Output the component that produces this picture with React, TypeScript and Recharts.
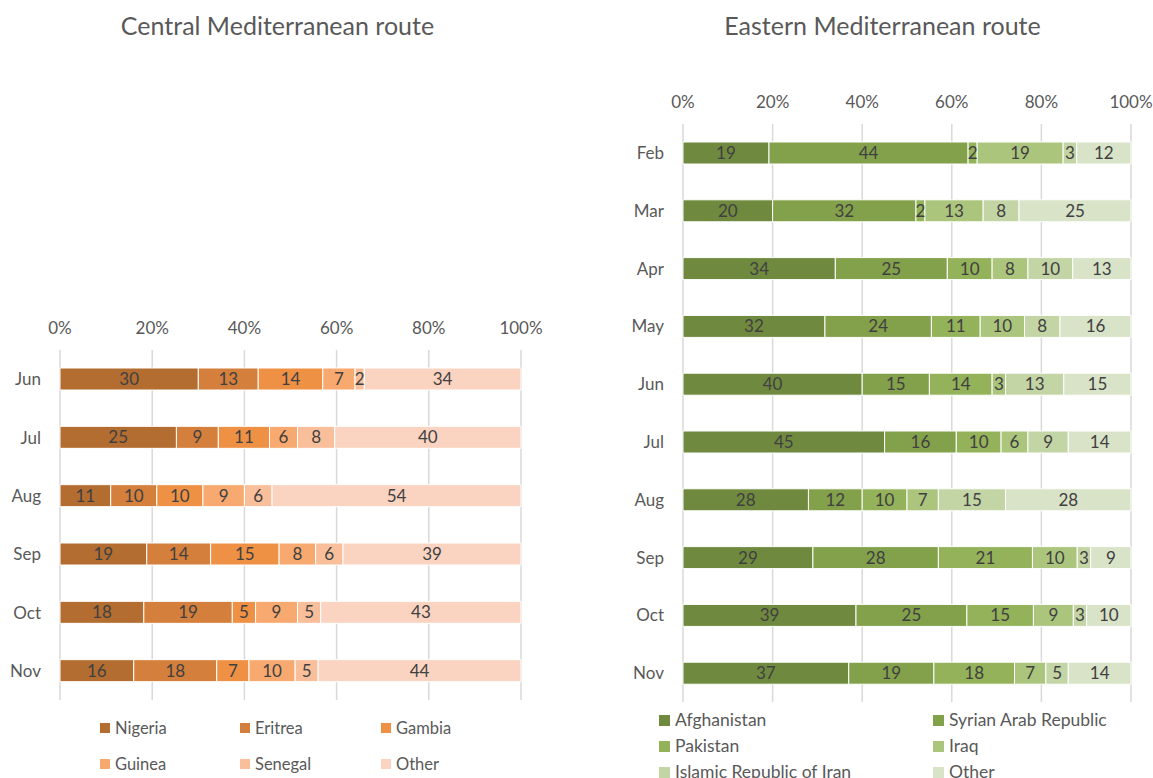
import React from 'react';
import { BarChart, Bar, XAxis, YAxis, CartesianGrid, LabelList } from 'recharts';

const FONT = 'Lato, "Liberation Sans", sans-serif';

// Central Mediterranean route
const centralMonths = ['Jun', 'Jul', 'Aug', 'Sep', 'Oct', 'Nov'];
const centralSeries = ['Nigeria', 'Eritrea', 'Gambia', 'Guinea', 'Senegal', 'Other'];
const centralColors = ['#B36D31', '#D47F3B', '#EE9145', '#F7A96F', '#F9BF9A', '#FAD4C0'];
const nigeria = [30, 25, 11, 19, 18, 16];
const eritrea = [13, 9, 10, 14, 19, 18];
const gambia = [14, 11, 10, 15, 5, 7];
const guinea = [7, 6, 9, 8, 9, 10];
const senegal = [2, 8, 6, 6, 5, 5];
const centralOther = [34, 40, 54, 39, 43, 44];

// Eastern Mediterranean route
const easternMonths = ['Feb', 'Mar', 'Apr', 'May', 'Jun', 'Jul', 'Aug', 'Sep', 'Oct', 'Nov'];
const easternSeries = ['Afghanistan', 'Syrian Arab Republic', 'Pakistan', 'Iraq', 'Islamic Republic of Iran', 'Other'];
const easternColors = ['#6F8A3E', '#83A04A', '#93B25A', '#ABC57D', '#C3D4A5', '#D8E3C7'];
const afghanistan = [19, 20, 34, 32, 40, 45, 28, 29, 39, 37];
const syria = [44, 32, 25, 24, 15, 16, 12, 28, 25, 19];
const pakistan = [2, 2, 10, 11, 14, 10, 10, 21, 15, 18];
const iraq = [19, 13, 8, 10, 3, 6, 7, 10, 9, 7];
const iran = [3, 8, 10, 8, 13, 9, 15, 3, 3, 5];
const easternOther = [12, 25, 13, 16, 15, 14, 28, 9, 10, 14];

const pctTicks = [0, 0.2, 0.4, 0.6, 0.8, 1];

const centralData = centralMonths.map((m, i) => ({
  month: m,
  s0: nigeria[i],
  s1: eritrea[i],
  s2: gambia[i],
  s3: guinea[i],
  s4: senegal[i],
  s5: centralOther[i],
}));

const easternData = easternMonths.map((m, i) => ({
  month: m,
  s0: afghanistan[i],
  s1: syria[i],
  s2: pakistan[i],
  s3: iraq[i],
  s4: iran[i],
  s5: easternOther[i],
}));

const KEYS = ['s0', 's1', 's2', 's3', 's4', 's5'];

function StackedChart({ data, colors, names, width, height, margin, yWidth }: any) {
  return (
    <BarChart
      width={width}
      height={height}
      data={data}
      layout="vertical"
      stackOffset="expand"
      margin={margin}
      barSize={22}
    >
      <CartesianGrid horizontal={false} stroke="#D9D9D9" strokeWidth={1.5} />
      <XAxis
        type="number"
        orientation="top"
        domain={[0, 1]}
        ticks={pctTicks}
        tickFormatter={(v) => `${Math.round(v * 100)}%`}
        axisLine={false}
        tickLine={false}
        tickSize={0}
        tickMargin={16}
        height={30}
        tick={{ fill: '#595959', fontSize: 17, fontFamily: FONT }}
        interval={0}
      />
      <YAxis
        type="category"
        dataKey="month"
        axisLine={false}
        tickLine={false}
        tickSize={0}
        tickMargin={19}
        width={yWidth}
        tick={{ fill: '#595959', fontSize: 17, fontFamily: FONT }}
        interval={0}
      />
      {KEYS.map((k, i) => (
        <Bar
          key={k}
          dataKey={k}
          name={names[i]}
          stackId="a"
          fill={colors[i]}
          stroke="#ffffff"
          strokeWidth={1}
          isAnimationActive={false}
        >
          <LabelList
            dataKey={k}
            position="center"
            fill="#404040"
            fontSize={17}
            fontFamily={FONT}
          />
        </Bar>
      ))}
    </BarChart>
  );
}

function LegendBox({ names, colors, left, top, colX, rowH, fontSize, box }: any) {
  return (
    <>
      {names.map((n: string, i: number) => {
        const cols = colX.length;
        const col = i % cols;
        const row = Math.floor(i / cols);
        return (
          <div
            key={n}
            style={{
              position: 'absolute',
              left: left + colX[col],
              top: top + row * rowH,
              display: 'flex',
              alignItems: 'center',
              fontFamily: FONT,
              fontSize,
              color: '#595959',
              whiteSpace: 'nowrap',
              lineHeight: '20px',
            }}
          >
            <span style={{ display: 'inline-block', width: box, height: box, background: colors[i], marginRight: 5 }} />
            {n}
          </div>
        );
      })}
    </>
  );
}

export default function App() {
  return (
    <div style={{ position: 'absolute', left: 0, top: 0, width: 1153, height: 778, overflow: 'hidden', background: '#fff' }}>
      <div style={{ position: 'absolute', left: 0, width: 555, top: 10, textAlign: 'center', fontFamily: FONT, fontSize: 25, color: '#595959' }}>
        Central Mediterranean route
      </div>
      <div style={{ position: 'absolute', left: 610, width: 545, top: 10, textAlign: 'center', fontFamily: FONT, fontSize: 25, color: '#595959' }}>
        Eastern Mediterranean route
      </div>

      <div style={{ position: 'absolute', left: 0, top: 0 }}>
        <StackedChart
          data={centralData}
          colors={centralColors}
          names={centralSeries}
          width={560}
          height={778}
          yWidth={50}
          margin={{ top: 320, right: 39, bottom: 78, left: 10 }}
        />
      </div>
      <div style={{ position: 'absolute', left: 590, top: 0 }}>
        <StackedChart
          data={easternData}
          colors={easternColors}
          names={easternSeries}
          width={563}
          height={778}
          yWidth={60}
          margin={{ top: 94, right: 22, bottom: 76, left: 33 }}
        />
      </div>

      <LegendBox names={centralSeries} colors={centralColors} left={100} top={718} colX={[0, 140, 281]} rowH={36} fontSize={16.5} box={10} />
      <LegendBox names={easternSeries} colors={easternColors} left={659} top={710} colX={[0, 274]} rowH={26} fontSize={17.5} box={11} />
    </div>
  );
}
